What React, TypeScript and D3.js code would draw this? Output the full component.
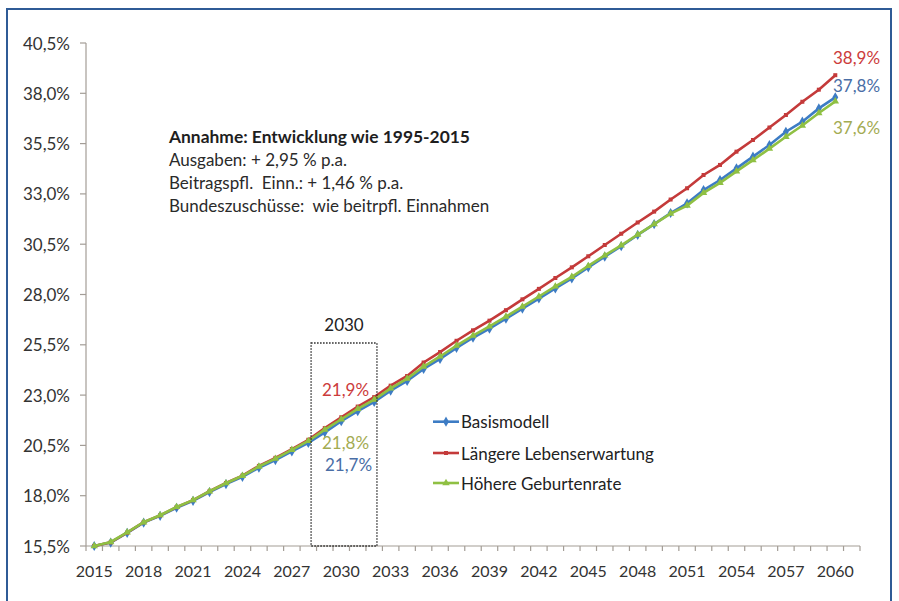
import React from "react";
import * as d3 from "d3";

const years: number[] = d3.range(2015, 2061);
const axisCategories: number[] = d3.range(2015, 2062); // last category empty
const tickLabelYears: number[] = d3.range(2015, 2061, 3);
const yTicks: number[] = [15.5, 18.0, 20.5, 23.0, 25.5, 28.0, 30.5, 33.0, 35.5, 38.0, 40.5];

const basis: number[] = [
  15.5, 15.67, 16.15, 16.66, 17.0, 17.4, 17.74, 18.18, 18.58, 18.94,
  19.39, 19.77, 20.2, 20.62, 21.15, 21.7, 22.2, 22.66, 23.22, 23.7,
  24.3, 24.8, 25.35, 25.85, 26.3, 26.8, 27.3, 27.8, 28.3, 28.8,
  29.35, 29.88, 30.4, 30.96, 31.5, 32.05, 32.53, 33.19, 33.69, 34.27,
  34.85, 35.43, 36.09, 36.59, 37.25, 37.8,
];
const laengere: number[] = [
  15.5, 15.68, 16.16, 16.68, 17.02, 17.43, 17.78, 18.22, 18.63, 19.0,
  19.48, 19.88, 20.32, 20.78, 21.36, 21.9, 22.43, 22.9, 23.47, 23.95,
  24.62, 25.14, 25.7, 26.22, 26.7, 27.22, 27.76, 28.28, 28.82, 29.35,
  29.9, 30.46, 31.02, 31.58, 32.12, 32.72, 33.28, 33.94, 34.44, 35.1,
  35.68, 36.3, 36.92, 37.58, 38.18, 38.9,
];
const hoehere: number[] = [
  15.5, 15.7, 16.18, 16.68, 17.03, 17.44, 17.78, 18.22, 18.62, 18.99,
  19.45, 19.84, 20.28, 20.72, 21.28, 21.8, 22.32, 22.78, 23.33, 23.82,
  24.42, 24.92, 25.46, 25.96, 26.42, 26.9, 27.4, 27.9, 28.4, 28.88,
  29.42, 29.94, 30.44, 30.98, 31.5, 32.02, 32.42, 33.05, 33.55, 34.12,
  34.68, 35.25, 35.84, 36.4, 37.02, 37.6,
];

const seriesNames: string[] = ["Basismodell", "Längere Lebenserwartung", "Höhere Geburtenrate"];
const seriesColors: string[] = ["#3d7cc4", "#c43a3a", "#8fc043"];
const labelColors: string[] = ["#4a6ea6", "#cc3b3b", "#a3ab52"];
const endLabels: string[] = ["37,8%", "38,9%", "37,6%"];
const labels2030: string[] = ["21,7%", "21,9%", "21,8%"];
const annotationTitle = "Annahme: Entwicklung wie 1995-2015";
const annotationLines: string[] = [
  "Ausgaben: + 2,95 % p.a.",
  "Beitragspfl.  Einn.: + 1,46 % p.a.",
  "Bundeszuschüsse:  wie beitrpfl. Einnahmen",
];

const FONT = "Lato, 'Open Sans', sans-serif";

export default function App() {
  const x = d3.scaleBand<number>().domain(axisCategories).range([86, 860]).paddingInner(0).paddingOuter(0);
  const bw = x.bandwidth();
  const cx = (yr: number) => (x(yr) as number) + bw / 2;
  const y = d3.scaleLinear().domain([15.5, 40.5]).range([546, 43]);
  const fmt = (v: number) => d3.format(".1f")(v).replace(".", ",") + "%";

  const allSeries = [basis, laengere, hoehere];
  const line = d3
    .line<number>()
    .x((_, i) => cx(years[i]))
    .y((d) => y(d));
  const symbols = [d3.symbolDiamond, d3.symbolSquare, d3.symbolTriangle];
  const symbolSizes = [30, 16, 24];

  const boxX0 = (x(2028) as number) + 11;
  const boxX1 = (x(2032) as number) + 11;
  const boxTop = 343;

  const legendRows = [421.7, 453, 483];
  const endLabelY = [85, 57, 127];
  const label2030Y = [464, 389, 442];
  const label2030X = [325, 322, 322];

  return (
    <svg
      width={899}
      height={601}
      style={{ position: "absolute", left: 0, top: 0, background: "#ffffff" }}
      fontFamily={FONT}
    >
      <rect x={0} y={0} width={899} height={601} fill="#ffffff" />
      {/* outer border */}
      <path d="M7,612 L7,9 L891,9 L891,612" fill="none" stroke="#2f5b96" strokeWidth={2} />

      {/* y axis */}
      <line x1={86} x2={86} y1={y(40.5)} y2={y(15.5)} stroke="#a39d96" strokeWidth={1.2} />
      {yTicks.map((t) => (
        <g key={t}>
          <line x1={80} x2={86} y1={y(t)} y2={y(t)} stroke="#a39d96" strokeWidth={1.2} />
          <text x={70} y={y(t)} textAnchor="end" dominantBaseline="central" fontSize={17} fill="#333">
            {fmt(t)}
          </text>
        </g>
      ))}

      {/* x axis */}
      <line x1={86} x2={860} y1={546} y2={546} stroke="#a39d96" strokeWidth={1.2} />
      {d3.range(axisCategories.length + 1).map((i) => (
        <line key={i} x1={86 + i * bw} x2={86 + i * bw} y1={546} y2={551} stroke="#a39d96" strokeWidth={1.2} />
      ))}
      {tickLabelYears.map((yr) => (
        <text key={yr} x={cx(yr)} y={570} textAnchor="middle" dominantBaseline="central" fontSize={16} fill="#333">
          {yr}
        </text>
      ))}

      {/* series */}
      {allSeries.map((s, si) => (
        <g key={si}>
          <path d={line(s) || ""} fill="none" stroke={seriesColors[si]} strokeWidth={2.6} />
          {s.map((v, i) => (
            <path
              key={i}
              transform={`translate(${cx(years[i])},${y(v)})`}
              d={d3.symbol().type(symbols[si]).size(symbolSizes[si])() || ""}
              fill={seriesColors[si]}
            />
          ))}
        </g>
      ))}

      {/* 2030 box */}
      <rect
        x={boxX0}
        y={boxTop}
        width={boxX1 - boxX0}
        height={546 - boxTop}
        fill="none"
        stroke="#222"
        strokeWidth={1.3}
        strokeDasharray="1.5,1.5"
      />
      <text x={(boxX0 + boxX1) / 2} y={324} textAnchor="middle" dominantBaseline="central" fontSize={17} fill="#222">
        2030
      </text>
      {labels2030.map((l, i) => (
        <text key={l} x={label2030X[i]} y={label2030Y[i]} dominantBaseline="central" fontSize={17} fill={labelColors[i]}>
          {l}
        </text>
      ))}

      {/* end labels */}
      {endLabels.map((l, i) => (
        <text key={l} x={833} y={endLabelY[i]} dominantBaseline="central" fontSize={17} fill={labelColors[i]}>
          {l}
        </text>
      ))}

      {/* annotation */}
      <text x={169} y={136} dominantBaseline="central" fontSize={17.4} fontWeight="bold" fill="#1e1e1e">
        {annotationTitle}
      </text>
      {annotationLines.map((l, i) => (
        <text key={l} x={169} y={159 + i * 23.3} dominantBaseline="central" fontSize={17} fill="#2a2a2a" style={{ whiteSpace: "pre" }}>
          {l}
        </text>
      ))}

      {/* legend */}
      {seriesNames.map((n, i) => (
        <g key={n}>
          <line x1={433} x2={459} y1={legendRows[i]} y2={legendRows[i]} stroke={seriesColors[i]} strokeWidth={2.6} />
          <path
            transform={`translate(446,${legendRows[i]})`}
            d={d3.symbol().type(symbols[i]).size(symbolSizes[i])() || ""}
            fill={seriesColors[i]}
          />
          <text x={461} y={legendRows[i]} dominantBaseline="central" fontSize={17} fill="#222">
            {n}
          </text>
        </g>
      ))}
    </svg>
  );
}
